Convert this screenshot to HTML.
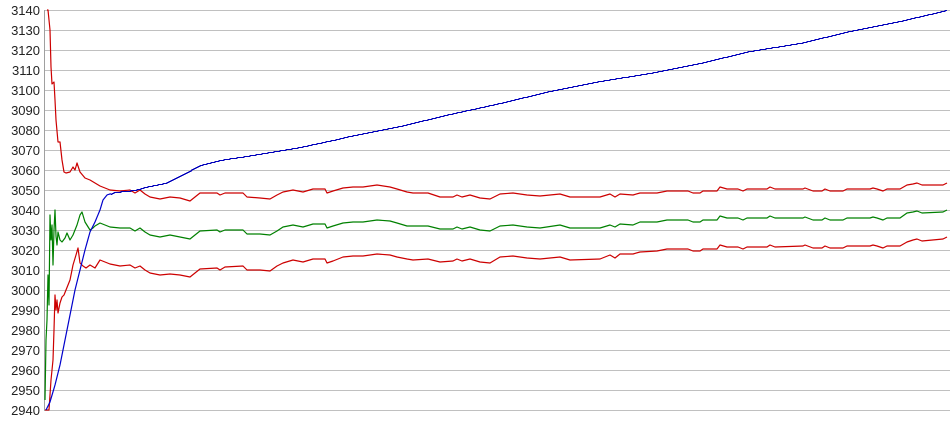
<!DOCTYPE html>
<html><head><meta charset="utf-8"><style>
html,body{margin:0;padding:0;background:#fff;}
svg{display:block;}
text{font-family:"Liberation Sans",Arial,sans-serif;font-size:13px;fill:#222;}
</style></head><body>
<svg id="s" width="950" height="435" xmlns="http://www.w3.org/2000/svg"></svg>
<script>
const s=document.getElementById('s');let h='';
for(let i=0;i<=20;i++){const y=10+i*20;const v=3140-i*10;
h+=`<line x1="44" y1="${y+0.5}" x2="950" y2="${y+0.5}" stroke="#c0c0c0" stroke-width="1"/>`;
h+=`<text x="40" y="${y+5}" text-anchor="end">${v}</text>`;}
h+=`<line x1="44.5" y1="10" x2="44.5" y2="411" stroke="#a0a0a0"/>`;
const up=[[47,10],[48,10],[50,30],[51,67],[52,84],[54,82],[55,100],[56,120],[58,142],[60,142],[62,160],[64,172],[66,173],[70,172],[73,167],[75,170],[77,163],[80,172],[85,178],[90,180],[95,183],[100,186],[110,190],[120,191],[130,190],[135,193],[140,190],[145,194],[150,197],[160,199],[170,197],
[180,198],[190,201],[200,193],[217,193],[220,195],[225,193],[243,193],[247,197],[260,198],[270,199],[277,195],[283,192],[293,190],[303,192],[313,189],[325,189],[327,193],[333,191],[343,188],[353,187],[363,187],[377,185],[390,187],[397,189],[407,192],[413,193],[428,193],[440,197],[453,197],[457,195],[462,197],[470,195],
[480,198],[490,199],[500,194],[513,193],[527,195],[540,196],[560,194],[570,197],[600,197],[610,194],[615,197],[620,194],[633,195],[640,193],[657,193],[667,191],[688,191],[693,193],[700,193],[703,191],[717,191],[720,187],[727,189],[738,189],[743,191],[747,189],[767,189],[770,187],[775,189],[803,189],[805,188],[813,191],[822,191],[825,189],[830,191],[843,191],[847,189],[870,189],[873,188],[877,189],[883,191],[887,189],[900,189],[907,185],[913,184],[917,183],[922,185],[943,185],[947,183]];
function d(x){const k=[[100,37],[180,38.5],[300,35],[380,34.5],[450,32],[540,31.5],[600,31],[650,29],[900,28.5],[947,27]];for(let i=1;i<k.length;i++){if(x<=k[i][0]){const t=(x-k[i-1][0])/(k[i][0]-k[i-1][0]);return k[i-1][1]+t*(k[i][1]-k[i-1][1]);}}return 27;}
const gEarly=[[45,400],[46,340],[47,320],[48,275],[49,305],[50,215],[51,240],[52,225],[53,265],[54,230],[55,210],[56,236],[57,245],[58,232],[60,240],[62,242],[65,238],[67,233],[70,240],[73,235],[77,225],[80,215],[82,212],[85,222],[90,230],[93,228],[95,226]];
const lEarly=[[45,410],[49,410],[50,395],[51,380],[53,360],[54,330],[55,295],[56,310],[57,300],[58,313],[60,303],[62,297],[64,295],[66,290],[70,280],[73,265],[76,255],[78,248],[80,263],[83,266],[86,268],[90,265],[95,268]];
const late=up.filter(p=>p[0]>=100);
const g=gEarly.concat(late.map(p=>[p[0],Math.round(p[1]+d(p[0]))]));
const l=lEarly.concat(late.map(p=>[p[0],Math.round(p[1]+2*d(p[0]))]));
const bk=[[46,410],[50,402],[55,385],[60,365],[65,340],[70,315],[75,290],[80,270],[85,250],[90,232],[95,222],[100,210],[103,200],[107,195],[115,192],[125,191],[135,190],[145,187],[155,185],[165,183],[180,176],[200,165],[220,160],[253,155],[300,147],[333,140],[350,136],[400,126],[450,114],[500,103],[550,91],[600,81],[650,73],[700,63],[750,51],[800,43],[850,31],[900,21],[947,10]];
const bA=[],bB=[];
for(let x=46;x<=947;x++){let y=null;for(let i=1;i<bk.length;i++){if(x<=bk[i][0]){const t=(x-bk[i-1][0])/(bk[i][0]-bk[i-1][0]);y=bk[i-1][1]+t*(bk[i][1]-bk[i-1][1]);break;}}
if(x<=110)bA.push([x,y.toFixed(1)]);else bB.push([x,Math.round(y)]);}
let bp=`M${bB[0][0]} ${bB[0][1]+0.5}`;let cy=bB[0][1];
for(let i=1;i<bB.length;i++){const [x,y]=bB[i];bp+=` H${x}`;if(y!==cy){bp+=` V${y+0.5}`;cy=y;}}
function pl(a,c){return `<polyline fill="none" stroke="${c}" stroke-width="1.2" stroke-linejoin="round" points="${a.map(p=>p[0]+','+p[1]).join(' ')}"/>`;}
h+=pl(g,'#008000')+pl(l,'#cc0000')+pl(up,'#cc0000')+pl(bA.concat([bB[0]]),'#0000cc');
h+=`<path d="${bp}" fill="none" stroke="#0000bb" stroke-width="1" shape-rendering="crispEdges"/>`;
s.innerHTML=h;
</script>
</body></html>
